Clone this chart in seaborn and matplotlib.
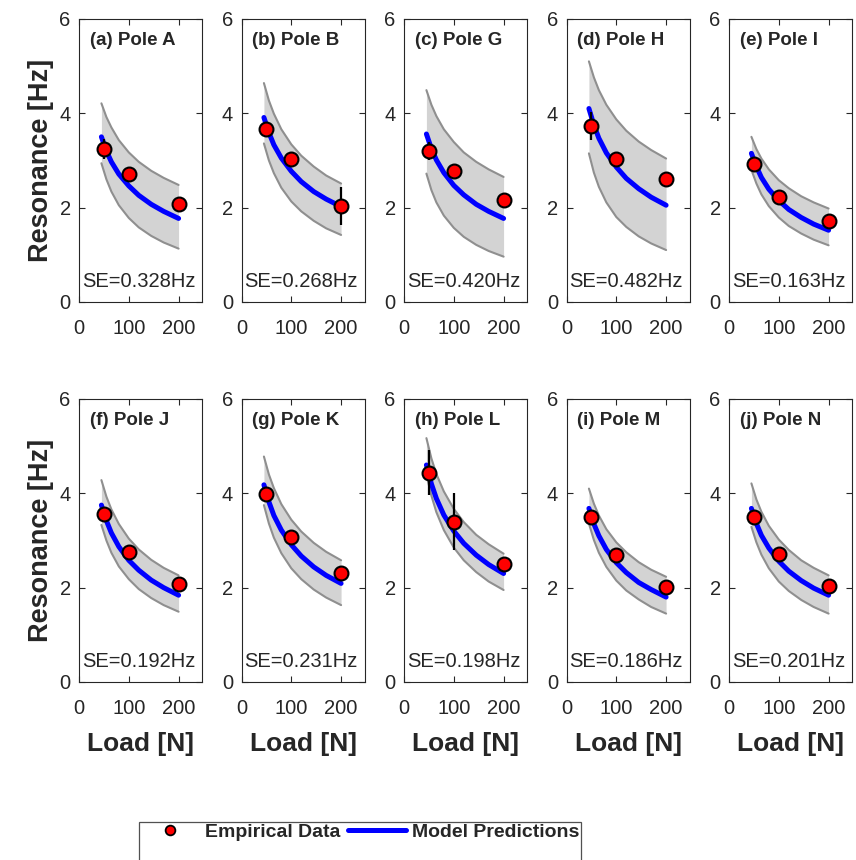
import matplotlib
matplotlib.use("Agg")
import pandas as pd
import seaborn as sns
from matplotlib import pyplot as plt
from matplotlib.lines import Line2D

# panel names and fit error
titles = ["(a) Pole A", "(b) Pole B", "(c) Pole G", "(d) Pole H", "(e) Pole I",
          "(f) Pole J", "(g) Pole K", "(h) Pole L", "(i) Pole M", "(j) Pole N"]
se_hz = ["0.328", "0.268", "0.420", "0.482", "0.163",
         "0.192", "0.231", "0.198", "0.186", "0.201"]

# empirical resonance at 3 loads (Hz), with error bar half-length
load_pts = [50, 100, 200]
emp_res = [
    [3.24, 2.71, 2.07], [3.67, 3.04, 2.04], [3.20, 2.78, 2.17], [3.73, 3.02, 2.60],
    [2.92, 2.23, 1.72], [3.57, 2.75, 2.07], [3.98, 3.08, 2.31], [4.44, 3.40, 2.50],
    [3.50, 2.69, 2.02], [3.50, 2.71, 2.03],
]
emp_err = [
    [0.22, 0.0, 0.0], [0.12, 0.0, 0.40], [0.20, 0.0, 0.0], [0.30, 0.0, 0.0],
    [0.0, 0.0, 0.0], [0.0, 0.0, 0.0], [0.0, 0.0, 0.0], [0.47, 0.60, 0.0],
    [0.0, 0.0, 0.0], [0.0, 0.0, 0.0],
]

# model prediction and its band, read along the load axis
curve_load = [45, 55, 65, 80, 100, 120, 145, 170, 200]
model_mid = [
    [3.50, 3.20, 2.97, 2.71, 2.46, 2.26, 2.07, 1.92, 1.77],
    [3.91, 3.59, 3.33, 3.05, 2.77, 2.55, 2.34, 2.18, 2.02],
    [3.56, 3.25, 3.01, 2.74, 2.47, 2.27, 2.07, 1.92, 1.77],
    [4.10, 3.75, 3.47, 3.16, 2.86, 2.62, 2.40, 2.22, 2.05],
    [3.15, 2.87, 2.64, 2.39, 2.15, 1.96, 1.79, 1.65, 1.52],
    [3.75, 3.42, 3.16, 2.87, 2.58, 2.37, 2.16, 2.00, 1.84],
    [4.18, 3.82, 3.53, 3.22, 2.91, 2.67, 2.44, 2.26, 2.09],
    [4.60, 4.20, 3.89, 3.54, 3.20, 2.94, 2.69, 2.49, 2.30],
    [3.68, 3.35, 3.10, 2.81, 2.53, 2.32, 2.11, 1.96, 1.80],
    [3.68, 3.36, 3.11, 2.84, 2.56, 2.35, 2.15, 1.99, 1.84],
]
model_hi = [
    [4.21, 3.92, 3.70, 3.43, 3.17, 2.97, 2.78, 2.63, 2.48],
    [4.64, 4.27, 3.99, 3.66, 3.34, 3.10, 2.87, 2.68, 2.51],
    [4.49, 4.18, 3.94, 3.66, 3.39, 3.17, 2.97, 2.81, 2.65],
    [5.10, 4.76, 4.49, 4.18, 3.87, 3.63, 3.40, 3.22, 3.04],
    [3.50, 3.24, 3.04, 2.81, 2.58, 2.41, 2.24, 2.11, 1.98],
    [4.28, 3.93, 3.66, 3.35, 3.04, 2.81, 2.59, 2.42, 2.26],
    [4.78, 4.40, 4.11, 3.77, 3.44, 3.19, 2.95, 2.76, 2.58],
    [5.17, 4.74, 4.41, 4.04, 3.67, 3.39, 3.12, 2.92, 2.72],
    [4.10, 3.78, 3.53, 3.24, 2.96, 2.75, 2.54, 2.38, 2.23],
    [4.21, 3.87, 3.61, 3.31, 3.02, 2.80, 2.58, 2.42, 2.26],
]
model_lo = [
    [2.94, 2.60, 2.34, 2.05, 1.78, 1.58, 1.40, 1.26, 1.13],
    [3.36, 3.00, 2.73, 2.42, 2.13, 1.92, 1.72, 1.56, 1.42],
    [2.72, 2.37, 2.11, 1.83, 1.57, 1.38, 1.21, 1.08, 0.96],
    [3.15, 2.74, 2.44, 2.11, 1.80, 1.59, 1.39, 1.24, 1.10],
    [2.80, 2.51, 2.28, 2.03, 1.79, 1.61, 1.45, 1.32, 1.20],
    [3.33, 3.00, 2.74, 2.45, 2.18, 1.97, 1.78, 1.63, 1.49],
    [3.75, 3.36, 3.06, 2.73, 2.41, 2.18, 1.96, 1.79, 1.63],
    [4.39, 3.95, 3.60, 3.22, 2.85, 2.58, 2.33, 2.13, 1.95],
    [3.36, 3.01, 2.74, 2.44, 2.15, 1.94, 1.75, 1.59, 1.45],
    [3.29, 2.96, 2.70, 2.41, 2.13, 1.93, 1.74, 1.59, 1.45],
]

sns.set_style("ticks")
plt.rcParams["font.family"] = ["Liberation Sans", "DejaVu Sans"]
dark = "#262626"

fig, axes = plt.subplots(2, 5, figsize=(8.56, 8.6), dpi=100)
fig.subplots_adjust(left=0.0923, right=0.9959, top=0.978, bottom=0.207,
                    wspace=0.316, hspace=0.343)

for i, ax in enumerate(axes.flat):
    curve = pd.DataFrame({"load": curve_load, "mid": model_mid[i],
                          "hi": model_hi[i], "lo": model_lo[i]})
    emp = pd.DataFrame({"load": load_pts, "res": emp_res[i], "err": emp_err[i]})

    ax.fill_between(curve["load"], curve["lo"], curve["hi"],
                    color="#d3d3d3", lw=0, zorder=1)
    sns.lineplot(data=curve, x="load", y="hi", ax=ax, color="#8f8f8f", lw=1.5, zorder=2)
    sns.lineplot(data=curve, x="load", y="lo", ax=ax, color="#8f8f8f", lw=1.5, zorder=2)
    sns.lineplot(data=curve, x="load", y="mid", ax=ax, color="#0000ff", lw=3.6, zorder=3)
    ax.errorbar(emp["load"], emp["res"], yerr=emp["err"], fmt="none",
                ecolor="black", elinewidth=1.6, capsize=0, zorder=4)
    sns.scatterplot(data=emp, x="load", y="res", ax=ax, color="red", s=100,
                    edgecolor="black", linewidth=1.5, zorder=5)

    ax.set_xlim(0, 248)
    ax.set_ylim(0, 6)
    ax.set_xticks([0, 100, 200])
    ax.set_yticks([0, 2, 4, 6])
    ax.tick_params(direction="in", top=True, right=True, length=4, width=0.8,
                   colors=dark, labelsize=14.5)
    ax.tick_params(axis="x", pad=12)
    ax.tick_params(axis="y", pad=6)
    for sp in ax.spines.values():
        sp.set_color(dark)
        sp.set_linewidth(0.8)

    ax.text(22, 5.55, titles[i], fontsize=13.5, fontweight="bold", color=dark,
            va="center", ha="left")
    ax.text(6, 0.43, "SE=" + se_hz[i] + "Hz", fontsize=14.5, color=dark,
            va="center", ha="left")

    ax.set_xlabel("Load [N]" if i >= 5 else "", fontsize=19, fontweight="bold",
                  color=dark, labelpad=10)
    ax.set_ylabel("Resonance [Hz]" if i % 5 == 0 else "", fontsize=19.5,
                  fontweight="bold", color=dark, labelpad=4)

# second, empty legend row lets the frame run past the bottom edge
handles = [
    Line2D([], [], ls="none", marker="o", markerfacecolor="red",
           markeredgecolor="black", markersize=7, markeredgewidth=1.3),
    Line2D([], [], ls="none"),
    Line2D([], [], color="#0000ff", lw=3.6),
    Line2D([], [], ls="none"),
]
leg = fig.legend(handles, ["Empirical Data", " ", "Model Predictions", " "], ncol=2,
                 loc="upper center", bbox_to_anchor=(0.4206, 0.0445),
                 prop={"weight": "bold", "size": 14}, frameon=True,
                 fancybox=False, edgecolor=dark, handlelength=3.0,
                 handletextpad=0.3, columnspacing=0.4, borderpad=0.1,
                 borderaxespad=0)
leg.get_frame().set_linewidth(0.9)

fig.savefig("out.png", dpi=100)
